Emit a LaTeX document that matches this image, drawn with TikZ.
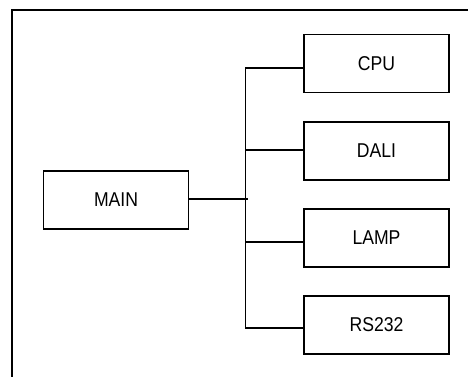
\documentclass[tikz,border=0pt]{standalone}
\usepackage{fontspec}
\setmainfont{Liberation Sans}[FakeStretch=0.88]
\begin{document}
\begin{tikzpicture}[x=1pt,y=-1pt,
  blk/.style={draw,line width=1.6pt,minimum width=145pt,minimum height=58pt,inner sep=0pt,font=\fontsize{20}{24}\selectfont},
  wire/.style={line width=1.6pt}]
\useasboundingbox (0,0) rectangle (468,377);
\coordinate (ftop) at (468,10);
\coordinate (fcorner) at (11.7,10);
\coordinate (fbot) at (11.7,377);
\draw[wire] (ftop) -- (fcorner) -- (fbot);
\node[blk] (main) at (116,200) {MAIN};
\node[blk] (cpu) at (376.5,63.7) {CPU};
\node[blk] (dali) at (376.5,151) {DALI};
\node[blk] (lamp) at (376.5,238) {LAMP};
\node[blk] (rs) at (376.5,324.7) {RS232};
\coordinate (b1) at (245.3,68);
\coordinate (b2) at (245.3,150);
\coordinate (b3) at (245.3,242);
\coordinate (b4) at (245.3,327.7);
\coordinate (j) at (247.7,199);
\draw[wire] (b1) -- (b4);
\draw[wire] (b1) -- (b1 -| cpu.west);
\draw[wire] (b2) -- (b2 -| dali.west);
\draw[wire] (b3) -- (b3 -| lamp.west);
\draw[wire] (b4) -- (b4 -| rs.west);
\draw[wire] (j -| main.east) -- (j);
\end{tikzpicture}
\end{document}
